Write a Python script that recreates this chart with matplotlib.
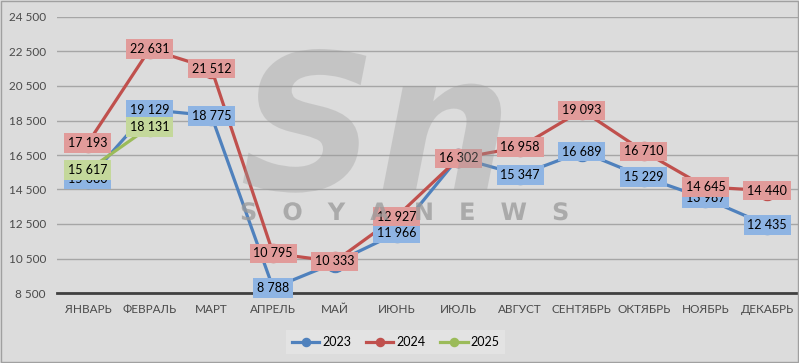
import matplotlib
matplotlib.use("Agg")
import matplotlib.pyplot as plt
from matplotlib.textpath import TextPath
from matplotlib.patches import PathPatch
from matplotlib.font_manager import FontProperties
from matplotlib.transforms import Affine2D

plt.rcParams['font.family'] = ['Lato', 'DejaVu Sans']

months = ["ЯНВАРЬ", "ФЕВРАЛЬ", "МАРТ", "АПРЕЛЬ", "МАЙ", "ИЮНЬ",
          "ИЮЛЬ", "АВГУСТ", "СЕНТЯБРЬ", "ОКТЯБРЬ", "НОЯБРЬ", "ДЕКАБРЬ"]
v2023 = [15080, 19129, 18775, 8788, 10250, 11966, 16350, 15347, 16689, 15229, 13987, 12435]
v2024 = [17193, 22631, 21512, 10795, 10333, 12927, 16302, 16958, 19093, 16710, 14645, 14440]
v2025 = [15617, 18131]
yticks = [8500, 10500, 12500, 14500, 16500, 18500, 20500, 22500, 24500]

bg = "#dcdcdc"
series = [
    ("2023", v2023, "#4f81bd", "#8eb4e3"),
    ("2024", v2024, "#c0504d", "#e19b9a"),
    ("2025", v2025, "#9bbb59", "#c4d89b"),
]

def fmt(v):
    return f"{v:,}".replace(",", " ")

fig = plt.figure(figsize=(7.99, 3.63), dpi=100, facecolor=bg)
ax = fig.add_axes([57/799, 1 - 293/363, 741/799, 276/363])
ax.set_facecolor(bg)

# watermark logo, drawn as shapes in pixel coordinates
def logo(txt, x0, y0, size, weight, style, alpha):
    fp = FontProperties(family="DejaVu Sans", weight=weight, style=style)
    tp = TextPath((0, 0), txt, size=size, prop=fp)
    tr = Affine2D().translate(x0, y0)
    p = PathPatch(tr.transform_path(tp), fc="#9a9a9a", ec="none", alpha=alpha,
                  transform=None, zorder=0)
    fig.patches.append(p)

logo("Sn", 240, 363 - 190, 190, "bold", "italic", 0.35)
logo("S   O   Y   A   N   E   W   S", 240, 363 - 220, 24, "bold", "normal", 0.75)

x = list(range(len(months)))
for name, vals, col, fill in series:
    ax.plot(x[:len(vals)], vals, color=col, lw=2.3, marker="o", ms=13,
            mec=col, mfc=col, label=name, zorder=3)

# data labels: blue first, then red, green on top
for k, (name, vals, col, fill) in enumerate(series):
    for i, v in enumerate(vals):
        if name == "2023" and i in (4, 6):
            continue
        ax.text(i, v, fmt(v), ha="center", va="center", fontsize=9,
                color="black", zorder=5 + k,
                bbox=dict(boxstyle="square,pad=0.3", fc=fill, ec="none"))

ax.set_xlim(-0.5, 11.5)
ax.set_ylim(8500, 24500)
ax.set_yticks(yticks)
ax.set_yticklabels([fmt(t) for t in yticks], fontsize=8.5, color="#4a4a4a")
ax.set_xticks(x)
ax.set_xticklabels(months, fontsize=8.5, color="#4a4a4a")
ax.tick_params(length=0, pad=8)
ax.grid(axis="y", color="#a6a6a6", lw=1)
ax.set_axisbelow(True)
for s in ["top", "right", "left"]:
    ax.spines[s].set_visible(False)
ax.spines["bottom"].set_color("#404040")
ax.spines["bottom"].set_linewidth(2)

leg = fig.legend(loc="center", bbox_to_anchor=(0.495, 0.058), ncol=3,
                 fontsize=9, frameon=True, fancybox=False, markerscale=0.45,
                 handlelength=2.2, columnspacing=1.2, handletextpad=0.2,
                 borderpad=0.45)
leg.get_frame().set_facecolor("#e6e6e6")
leg.get_frame().set_edgecolor("none")

fig.patches.append(plt.Rectangle((0.001, 0.002), 0.998, 0.996, transform=fig.transFigure,
                                 fill=False, ec="#a0a0a0", lw=1))

fig.savefig("out.png", dpi=100, facecolor=bg)
